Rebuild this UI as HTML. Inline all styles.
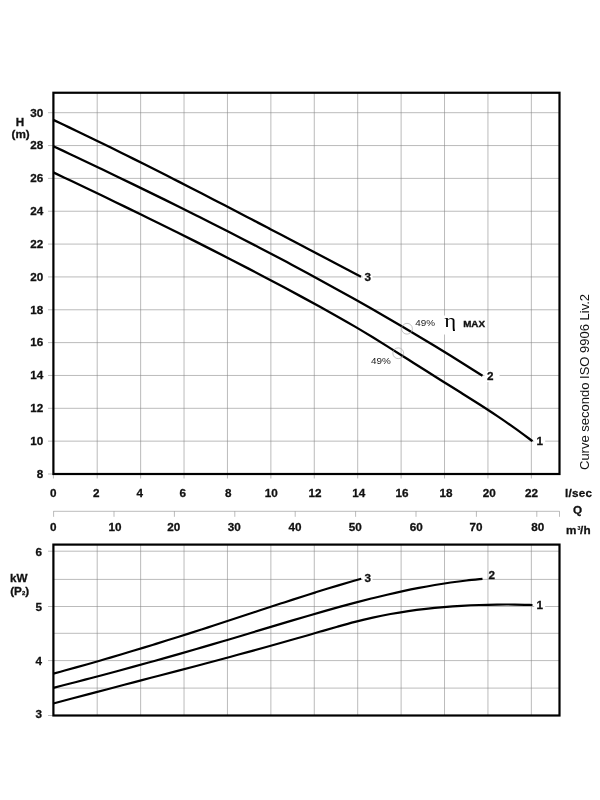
<!DOCTYPE html>
<html><head><meta charset="utf-8"><title>Curve</title>
<style>
html,body{margin:0;padding:0;background:#fff}
svg{display:block}
text{font-family:"Liberation Sans",sans-serif;fill:#111}
.b{font-weight:bold;font-size:11.7px;stroke:#111;stroke-width:0.3px}
.g{stroke:#858585;stroke-width:0.56;fill:none}
.f{stroke:#000;stroke-width:2.2;fill:none}
.c{stroke:#000;stroke-width:2.3;fill:none;stroke-linecap:butt}
.c2{stroke:#000;stroke-width:2.15;fill:none}
</style></head><body>
<svg width="600" height="800" viewBox="0 0 600 800">
<rect width="600" height="800" fill="#fff"/>
<path class="g" d="M97.21,92.75V478.50M140.63,92.75V478.50M184.04,92.75V478.50M227.45,92.75V478.50M270.87,92.75V478.50M314.28,92.75V478.50M357.70,92.75V478.50M401.11,92.75V478.50M444.52,92.75V478.50M487.94,92.75V478.50M531.35,92.75V478.50M48.00,441.15H559.50M48.00,408.31H559.50M48.00,375.46H559.50M48.00,342.62H559.50M48.00,309.77H559.50M48.00,276.93H559.50M48.00,244.08H559.50M48.00,211.24H559.50M48.00,178.39H559.50M48.00,145.55H559.50M48.00,112.70H559.50"/>
<path class="g" d="M97.21,544.60V715.50M140.63,544.60V715.50M184.04,544.60V715.50M227.45,544.60V715.50M270.87,544.60V715.50M314.28,544.60V715.50M357.70,544.60V715.50M401.11,544.60V715.50M444.52,544.60V715.50M487.94,544.60V715.50M531.35,544.60V715.50M53.40,688.10H559.50M48.00,660.60H559.50M53.40,633.30H559.50M48.00,606.50H559.50M53.40,579.40H559.50M48.00,551.20H559.50"/>
<path class="g" d="M53.40,511.3H559.50M53.60,511.3V516.8M114.00,511.3V516.8M174.40,511.3V516.8M234.80,511.3V516.8M295.20,511.3V516.8M355.60,511.3V516.8M416.00,511.3V516.8M476.40,511.3V516.8M536.80,511.3V516.8M559.50,511.3V516.8"/>
<path class="g" d="M53.40,474.00V478.50M48.00,474.00H53.40M48.00,715.50H53.40"/>
<rect class="f" x="53.40" y="92.75" width="506.10" height="381.25"/>
<rect class="f" x="53.40" y="544.60" width="506.10" height="170.90"/>
<path class="c" d="M53.30,119.85 C55.20,120.75 60.90,123.44 64.70,125.25 C68.50,127.06 72.29,128.87 76.09,130.70 C79.89,132.52 83.69,134.35 87.49,136.19 C91.29,138.03 95.09,139.88 98.89,141.73 C102.68,143.59 106.48,145.45 110.28,147.32 C114.08,149.19 117.88,151.06 121.68,152.94 C125.48,154.82 129.28,156.71 133.07,158.61 C136.87,160.50 140.67,162.40 144.47,164.31 C148.27,166.22 152.07,168.13 155.87,170.05 C159.67,171.96 163.46,173.89 167.26,175.81 C171.06,177.74 174.86,179.68 178.66,181.61 C182.46,183.55 186.26,185.49 190.06,187.44 C193.85,189.39 197.65,191.34 201.45,193.30 C205.25,195.25 209.05,197.21 212.85,199.18 C216.65,201.14 220.45,203.11 224.24,205.08 C228.04,207.05 231.84,209.02 235.64,211.00 C239.44,212.97 243.24,214.95 247.04,216.94 C250.84,218.92 254.63,220.90 258.43,222.89 C262.23,224.88 266.03,226.87 269.83,228.86 C273.63,230.85 277.43,232.84 281.23,234.84 C285.02,236.83 288.82,238.83 292.62,240.83 C296.42,242.83 300.22,244.83 304.02,246.83 C307.82,248.82 311.62,250.83 315.41,252.83 C319.21,254.83 323.01,256.83 326.81,258.83 C330.61,260.83 334.41,262.84 338.21,264.84 C342.01,266.84 345.80,268.84 349.60,270.84 C353.40,272.84 359.10,275.84 361.00,276.84"/>
<path class="c" d="M53.30,146.17 C55.95,147.43 63.90,151.18 69.20,153.69 C74.50,156.20 79.79,158.71 85.09,161.24 C90.39,163.76 95.69,166.29 100.99,168.82 C106.29,171.36 111.59,173.90 116.89,176.45 C122.18,179.00 127.48,181.56 132.78,184.13 C138.08,186.70 143.38,189.27 148.68,191.86 C153.98,194.45 159.28,197.04 164.57,199.65 C169.87,202.26 175.17,204.87 180.47,207.50 C185.77,210.13 191.07,212.77 196.37,215.43 C201.67,218.08 206.96,220.74 212.26,223.42 C217.56,226.10 222.86,228.79 228.16,231.50 C233.46,234.20 238.76,236.92 244.06,239.66 C249.35,242.39 254.65,245.14 259.95,247.91 C265.25,250.67 270.55,253.46 275.85,256.25 C281.15,259.05 286.45,261.87 291.74,264.70 C297.04,267.53 302.34,270.38 307.64,273.25 C312.94,276.12 318.24,279.01 323.54,281.91 C328.84,284.82 334.13,287.75 339.43,290.69 C344.73,293.64 350.03,296.60 355.33,299.59 C360.63,302.58 365.93,305.59 371.23,308.62 C376.52,311.65 381.82,314.70 387.12,317.77 C392.42,320.85 397.72,323.95 403.02,327.07 C408.32,330.19 413.62,333.33 418.91,336.50 C424.21,339.67 429.51,342.87 434.81,346.09 C440.11,349.31 445.41,352.55 450.71,355.82 C456.01,359.09 461.30,362.39 466.60,365.72 C471.90,369.04 479.85,374.10 482.50,375.77"/>
<path class="c" d="M53.30,172.37 C56.26,173.78 65.13,177.99 71.05,180.80 C76.96,183.62 82.88,186.44 88.80,189.27 C94.71,192.10 100.63,194.94 106.54,197.79 C112.46,200.64 118.38,203.50 124.29,206.37 C130.21,209.24 136.12,212.12 142.04,215.01 C147.96,217.91 153.87,220.81 159.79,223.73 C165.70,226.65 171.62,229.58 177.54,232.52 C183.45,235.47 189.37,238.43 195.29,241.40 C201.20,244.38 207.12,247.36 213.03,250.37 C218.95,253.38 224.87,256.40 230.78,259.44 C236.70,262.48 242.61,265.54 248.53,268.62 C254.45,271.70 260.36,274.80 266.28,277.91 C272.19,281.03 278.11,284.17 284.03,287.33 C289.94,290.49 295.86,293.67 301.77,296.87 C307.69,300.07 313.61,303.29 319.52,306.55 C325.44,309.80 331.35,313.07 337.27,316.42 C343.19,319.76 349.10,323.15 355.02,326.63 C360.93,330.11 366.85,333.69 372.77,337.31 C378.68,340.93 384.60,344.64 390.51,348.35 C396.43,352.05 402.35,355.80 408.26,359.54 C414.18,363.27 420.10,367.01 426.01,370.74 C431.93,374.47 437.84,378.19 443.76,381.91 C449.68,385.63 455.59,389.31 461.51,393.04 C467.42,396.77 473.34,400.48 479.26,404.30 C485.17,408.11 491.09,411.95 497.00,415.92 C502.92,419.89 508.84,423.92 514.75,428.13 C520.67,432.34 529.54,438.99 532.50,441.16"/>
<path class="c2" d="M53.30,673.65 C55.20,673.14 60.90,671.60 64.71,670.55 C68.51,669.51 72.31,668.46 76.11,667.40 C79.91,666.34 83.71,665.26 87.52,664.18 C91.32,663.10 95.12,662.01 98.92,660.92 C102.72,659.82 106.53,658.71 110.33,657.60 C114.13,656.48 117.93,655.36 121.73,654.23 C125.54,653.10 129.34,651.96 133.14,650.82 C136.94,649.67 140.74,648.52 144.54,647.36 C148.35,646.20 152.15,645.03 155.95,643.85 C159.75,642.68 163.55,641.50 167.36,640.31 C171.16,639.12 174.96,637.93 178.76,636.73 C182.56,635.53 186.36,634.32 190.17,633.11 C193.97,631.90 197.77,630.68 201.57,629.46 C205.37,628.24 209.18,627.01 212.98,625.78 C216.78,624.54 220.58,623.30 224.38,622.06 C228.19,620.82 231.99,619.57 235.79,618.32 C239.59,617.07 243.39,615.82 247.19,614.56 C251.00,613.31 254.80,612.05 258.60,610.80 C262.40,609.55 266.20,608.29 270.01,607.05 C273.81,605.80 277.61,604.55 281.41,603.31 C285.21,602.07 289.01,600.84 292.82,599.61 C296.62,598.38 300.42,597.16 304.22,595.95 C308.02,594.74 311.83,593.54 315.63,592.35 C319.43,591.17 323.23,589.99 327.03,588.83 C330.84,587.66 334.64,586.51 338.44,585.38 C342.24,584.25 346.04,583.13 349.84,582.03 C353.65,580.94 359.35,579.34 361.25,578.80"/>
<path class="c2" d="M53.30,687.91 C55.95,687.22 63.90,685.17 69.20,683.79 C74.50,682.41 79.79,681.03 85.09,679.64 C90.39,678.24 95.69,676.85 100.99,675.44 C106.29,674.03 111.59,672.62 116.89,671.19 C122.18,669.77 127.48,668.34 132.78,666.90 C138.08,665.45 143.38,664.00 148.68,662.53 C153.98,661.07 159.28,659.59 164.57,658.11 C169.87,656.62 175.17,655.12 180.47,653.60 C185.77,652.09 191.07,650.56 196.37,649.02 C201.67,647.48 206.96,645.93 212.26,644.37 C217.56,642.81 222.86,641.23 228.16,639.66 C233.46,638.08 238.76,636.50 244.06,634.92 C249.35,633.33 254.65,631.74 259.95,630.15 C265.25,628.56 270.55,626.97 275.85,625.39 C281.15,623.80 286.45,622.21 291.74,620.64 C297.04,619.07 302.34,617.50 307.64,615.95 C312.94,614.40 318.24,612.87 323.54,611.36 C328.84,609.85 334.13,608.35 339.43,606.90 C344.73,605.44 350.03,604.00 355.33,602.60 C360.63,601.21 365.93,599.84 371.23,598.52 C376.52,597.20 381.82,595.91 387.12,594.68 C392.42,593.45 397.72,592.26 403.02,591.13 C408.32,589.99 413.62,588.91 418.91,587.89 C424.21,586.87 429.51,585.91 434.81,585.01 C440.11,584.12 445.41,583.29 450.71,582.53 C456.01,581.78 461.30,581.09 466.60,580.48 C471.90,579.88 479.85,579.17 482.50,578.91"/>
<path class="c2" d="M53.30,703.51 C56.26,702.72 65.13,700.35 71.05,698.78 C76.96,697.21 82.88,695.65 88.80,694.09 C94.71,692.53 100.63,690.98 106.54,689.43 C112.46,687.88 118.38,686.33 124.29,684.79 C130.21,683.24 136.12,681.69 142.04,680.15 C147.96,678.60 153.87,677.05 159.79,675.50 C165.70,673.95 171.62,672.40 177.54,670.85 C183.45,669.29 189.37,667.73 195.29,666.17 C201.20,664.60 207.12,663.03 213.03,661.45 C218.95,659.87 224.87,658.29 230.78,656.69 C236.70,655.09 242.61,653.49 248.53,651.87 C254.45,650.26 260.36,648.63 266.28,646.99 C272.19,645.35 278.11,643.70 284.03,642.03 C289.94,640.36 295.86,638.68 301.77,636.99 C307.69,635.29 313.61,633.56 319.52,631.84 C325.44,630.13 331.35,628.37 337.27,626.71 C343.19,625.05 349.10,623.39 355.02,621.88 C360.93,620.36 366.85,618.93 372.77,617.63 C378.68,616.33 384.60,615.14 390.51,614.06 C396.43,612.98 402.35,612.02 408.26,611.16 C414.18,610.30 420.10,609.56 426.01,608.89 C431.93,608.23 437.84,607.66 443.76,607.16 C449.68,606.66 455.59,606.23 461.51,605.88 C467.42,605.52 473.34,605.23 479.26,605.02 C485.17,604.80 491.09,604.66 497.00,604.58 C502.92,604.51 508.84,604.50 514.75,604.57 C520.67,604.63 529.54,604.90 532.50,604.97"/>
<circle cx="407" cy="328.75" r="5.4" fill="none" stroke="#a0a0a0" stroke-width="0.6"/>
<circle cx="398.25" cy="353.25" r="5.4" fill="none" stroke="#a0a0a0" stroke-width="0.6"/>
<text class="b" x="43.30" y="477.80" text-anchor="end">8</text>
<text class="b" x="43.30" y="444.95" text-anchor="end">10</text>
<text class="b" x="43.30" y="412.11" text-anchor="end">12</text>
<text class="b" x="43.30" y="379.26" text-anchor="end">14</text>
<text class="b" x="43.30" y="346.42" text-anchor="end">16</text>
<text class="b" x="43.30" y="313.57" text-anchor="end">18</text>
<text class="b" x="43.30" y="280.73" text-anchor="end">20</text>
<text class="b" x="43.30" y="247.88" text-anchor="end">22</text>
<text class="b" x="43.30" y="215.04" text-anchor="end">24</text>
<text class="b" x="43.30" y="182.19" text-anchor="end">26</text>
<text class="b" x="43.30" y="149.35" text-anchor="end">28</text>
<text class="b" x="43.30" y="116.50" text-anchor="end">30</text>
<text class="b" x="42.00" y="718.30" text-anchor="end">3</text>
<text class="b" x="42.00" y="665.20" text-anchor="end">4</text>
<text class="b" x="42.00" y="611.10" text-anchor="end">5</text>
<text class="b" x="42.00" y="555.80" text-anchor="end">6</text>
<text class="b" x="53.20" y="496.70" text-anchor="middle">0</text>
<text class="b" x="96.31" y="496.70" text-anchor="middle">2</text>
<text class="b" x="139.73" y="496.70" text-anchor="middle">4</text>
<text class="b" x="182.84" y="496.70" text-anchor="middle">6</text>
<text class="b" x="228.15" y="496.70" text-anchor="middle">8</text>
<text class="b" x="271.37" y="496.70" text-anchor="middle">10</text>
<text class="b" x="314.98" y="496.70" text-anchor="middle">12</text>
<text class="b" x="358.70" y="496.70" text-anchor="middle">14</text>
<text class="b" x="402.01" y="496.70" text-anchor="middle">16</text>
<text class="b" x="445.92" y="496.70" text-anchor="middle">18</text>
<text class="b" x="489.14" y="496.70" text-anchor="middle">20</text>
<text class="b" x="531.50" y="496.70" text-anchor="middle">22</text>
<text class="b" x="53.20" y="531.30" text-anchor="middle">0</text>
<text class="b" x="115.00" y="531.30" text-anchor="middle">10</text>
<text class="b" x="173.80" y="531.30" text-anchor="middle">20</text>
<text class="b" x="234.30" y="531.30" text-anchor="middle">30</text>
<text class="b" x="294.90" y="531.30" text-anchor="middle">40</text>
<text class="b" x="355.20" y="531.30" text-anchor="middle">50</text>
<text class="b" x="416.30" y="531.30" text-anchor="middle">60</text>
<text class="b" x="476.00" y="531.30" text-anchor="middle">70</text>
<text class="b" x="537.70" y="531.30" text-anchor="middle">80</text>
<text class="b" x="20.00" y="126.30" text-anchor="middle">H</text>
<text class="b" x="20.60" y="137.60" text-anchor="middle">(m)</text>
<text class="b" x="18.80" y="581.70" text-anchor="middle">kW</text>
<text class="b" x="19.7" y="594.8" text-anchor="middle">(P<tspan font-size="6px" dy="-0.3">2</tspan><tspan dy="0.3">)</tspan></text>
<text class="b" x="564.9" y="497" letter-spacing="0.25">l/sec</text>
<text class="b" x="577.50" y="514.00" text-anchor="middle">Q</text>
<text class="b" x="565.9" y="533.7">m</text><text class="b" x="577.5" y="530.4" style="font-size:5.2px;stroke-width:0.15px">3</text><text class="b" x="580.1" y="533.7" letter-spacing="0.2">/h</text>
<rect x="362.8" y="272.0" width="9.7" height="10.5" fill="#fff"/>
<rect x="484.5" y="371.0" width="15.0" height="11.0" fill="#fff"/>
<rect x="534.2" y="436.0" width="11.0" height="10.5" fill="#fff"/>
<rect x="362.8" y="573.0" width="9.7" height="10.5" fill="#fff"/>
<rect x="534.2" y="600.0" width="11.0" height="10.5" fill="#fff"/>
<text class="b" x="364.50" y="280.80" text-anchor="start">3</text>
<text class="b" x="487.00" y="380.00" text-anchor="start">2</text>
<text class="b" x="536.50" y="445.00" text-anchor="start">1</text>
<text class="b" x="364.50" y="582.00" text-anchor="start">3</text>
<text class="b" x="488.50" y="578.80" text-anchor="start">2</text>
<text class="b" x="536.50" y="608.80" text-anchor="start">1</text>
<text x="415.3" y="326.4" font-size="9.9px" style="fill:#1a1a1a">49%</text>
<text x="371.1" y="363.9" font-size="9.9px" style="fill:#1a1a1a">49%</text>
<rect x="443" y="315.5" width="12.5" height="19" fill="#fff"/>
<text transform="translate(444.3,326.7) scale(1.24,1)" font-size="18.4px" style="font-family:'Liberation Serif','DejaVu Serif',serif;fill:#000">η</text>
<text x="463.2" y="326.5" font-size="9.3px" font-weight="bold" stroke="#111" stroke-width="0.35" textLength="21.8" lengthAdjust="spacingAndGlyphs">MAX</text>
<text transform="translate(589.1,470) rotate(-90)" font-size="13px" style="fill:#111">Curve secondo ISO 9906 Liv.2</text>
</svg>
</body></html>
